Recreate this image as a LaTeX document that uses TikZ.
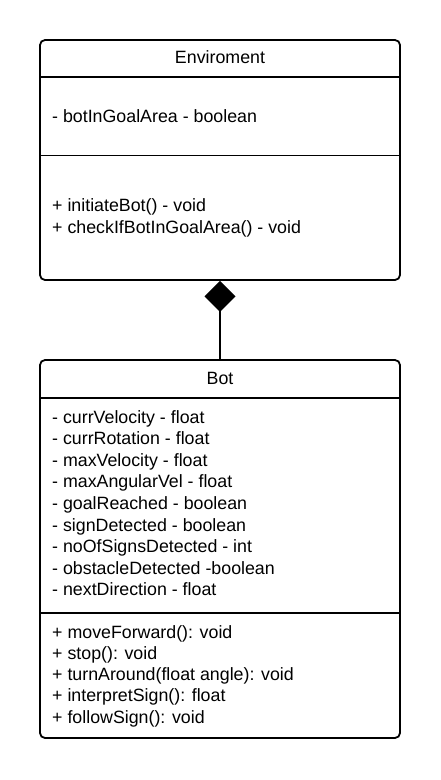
\documentclass[tikz,border=0pt]{standalone}
\usepackage{fontspec}
\setmainfont{Liberation Sans}
\usetikzlibrary{arrows.meta}
\tikzset{
  classbox/.style={draw=black, line width=1.8pt, rounded corners=5pt, inner sep=0pt, minimum width=360pt},
  sepline/.style={draw=black, line width=1.8pt},
  member/.style={anchor=base west, inner sep=0pt, font=\fontsize{17.8}{21.6}\selectfont},
  title/.style={anchor=base, inner sep=0pt, font=\fontsize{17.8}{21.6}\selectfont},
  compose/.style={draw=black, line width=1.8pt, {Diamond[length=31pt,width=31pt,fill=black]}-}
}
\begin{document}
\begin{tikzpicture}[x=1pt,y=-1pt]
\useasboundingbox (0,0) rectangle (440,780);
% Enviroment
\node[classbox, minimum height=240pt] (env) at (220,160) {};
\coordinate (e1l) at (40,77); \coordinate (e1r) at (400,77);
\coordinate (e2l) at (40,155.5); \coordinate (e2r) at (400,155.5);
\draw[sepline] (e1l) -- (e1r);
\draw[sepline] (e2l) -- (e2r);
\node[title] (envt) at (220,63) {Enviroment};
\node[member] (ea1) at (52,122) {- botInGoalArea - boolean};
\node[member] (em1) at (52,211) {+ initiateBot() - void};
\node[member] (em2) at (52,233) {+ checkIfBotInGoalArea() - void};
% Bot
\node[classbox, minimum height=378pt] (bot) at (220,549) {};
\coordinate (b1l) at (40,398); \coordinate (b1r) at (400,398);
\coordinate (b2l) at (40,613); \coordinate (b2r) at (400,613);
\draw[sepline] (b1l) -- (b1r);
\draw[sepline] (b2l) -- (b2r);
\node[title] (bott) at (220,384) {Bot};
\foreach \t [count=\i from 0] in {- currVelocity - float, - currRotation - float, - maxVelocity - float, - maxAngularVel - float, - goalReached - boolean, - signDetected - boolean, - noOfSignsDetected - int, - obstacleDetected -boolean, - nextDirection - float}
  \node[member] (ba\i) at (52,423+21.6*\i) {\t};
\foreach \t [count=\i from 0] in {+ moveForward(): void, + stop(): void, + turnAround(float angle): void, + interpretSign(): float, + followSign(): void}
  \node[member] (bm\i) at (52,638+21.3*\i) {\t};
% composition
\draw[compose] (env.south) -- (bot.north);
\end{tikzpicture}
\end{document}
